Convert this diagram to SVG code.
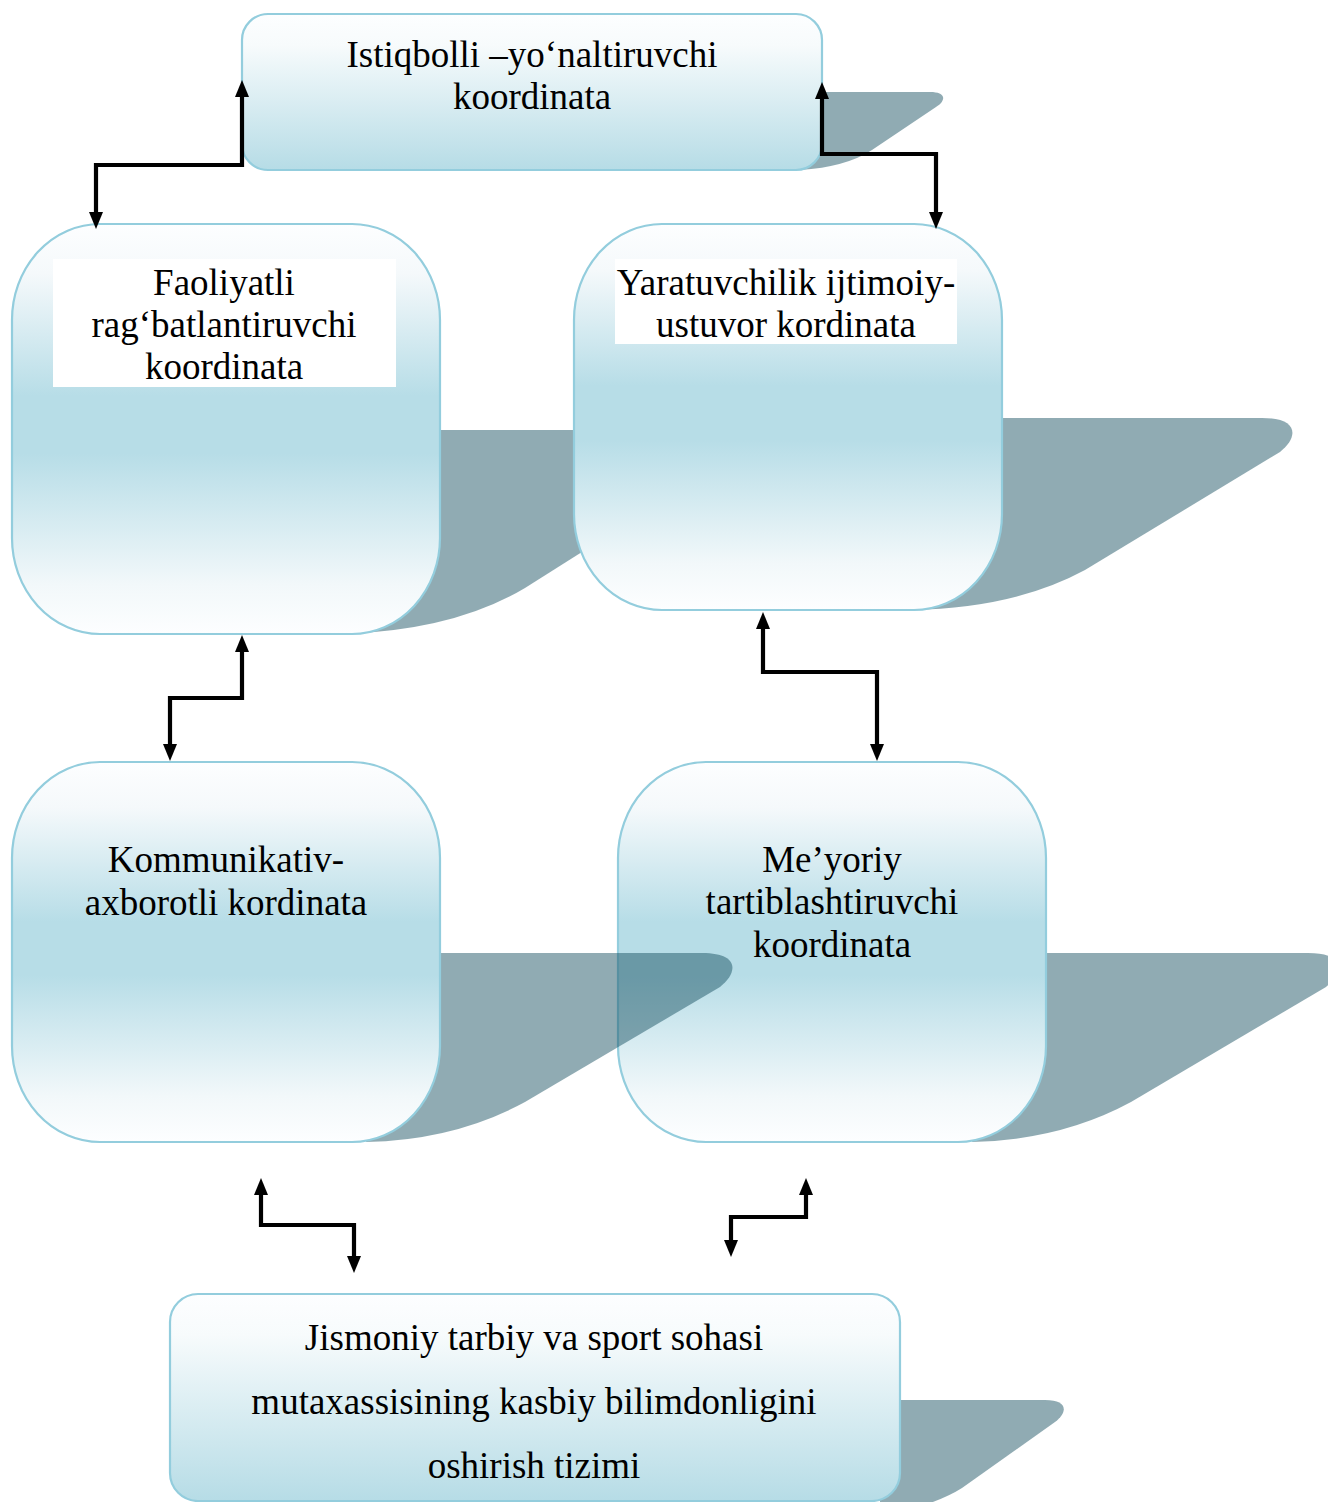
<svg xmlns="http://www.w3.org/2000/svg" width="1328" height="1502" viewBox="0 0 1328 1502">
<defs>
<linearGradient id="gWide" x1="0" y1="0" x2="0" y2="1">
<stop offset="0" stop-color="#fdfeff"/>
<stop offset="0.2" stop-color="#f7fbfc"/>
<stop offset="1" stop-color="#b6dce6"/>
</linearGradient>
<linearGradient id="gTall" x1="0" y1="0" x2="0" y2="1">
<stop offset="0" stop-color="#fdfeff"/>
<stop offset="0.12" stop-color="#f5f9fb"/>
<stop offset="0.42" stop-color="#b7dde7"/>
<stop offset="0.56" stop-color="#b7dde7"/>
<stop offset="0.88" stop-color="#f2f8fa"/>
<stop offset="1" stop-color="#fdfeff"/>
</linearGradient>
<marker id="ah" viewBox="0 0 17 14" refX="0" refY="7" markerWidth="17" markerHeight="14" markerUnits="userSpaceOnUse" orient="auto-start-reverse">
<path d="M0,0 L17,7 L0,14 Z" fill="#000"/>
</marker>
</defs>
<style>
.box{stroke:#93cddd;stroke-width:2.2}
.wide{fill:url(#gWide)}
.tall{fill:url(#gTall)}
.sh{fill:#144d5e;fill-opacity:0.47}
.t{font-family:"Liberation Serif","Times New Roman",serif;font-size:37px;fill:#000;text-anchor:middle}
.conn{fill:none;stroke:#000;stroke-width:4.2;marker-start:url(#ah);marker-end:url(#ah)}
</style>

<g id="node-top">
<path class="sh" d="M800,92 L930,92 C947,92 946,101 936,107 L872,150 Q846,167 800,170 Z"/>
<rect class="box wide" x="242" y="14" width="580" height="156" rx="26" ry="26"/>
<text class="t" x="532" y="67">Istiqbolli –yo‘naltiruvchi</text>
<text class="t" x="532" y="109">koordinata</text>
</g>

<g id="node-faoliyatli">
<path class="sh" d="M420,430 L700,430 C738,430 738,450 718,466 L525,588 Q455,630 345,634 Z"/>
<rect class="box tall" x="12" y="224" width="428" height="410" rx="88" ry="96"/>
<rect x="53" y="259" width="343" height="128" fill="#fff"/>
<text class="t" x="224" y="295">Faoliyatli</text>
<text class="t" x="224" y="337">rag‘batlantiruvchi</text>
<text class="t" x="224" y="379">koordinata</text>
</g>

<g id="node-yaratuvchilik">
<path class="sh" d="M980,418 L1262,418 C1300,418 1298,438 1280,452 L1085,570 Q1015,608 912,610 Z"/>
<rect class="box tall" x="574" y="224" width="428" height="386" rx="88" ry="96"/>
<rect x="615" y="259" width="342" height="85" fill="#fff"/>
<text class="t" x="786" y="295">Yaratuvchilik ijtimoiy-</text>
<text class="t" x="786" y="337">ustuvor kordinata</text>
</g>

<g id="node-meyoriy">
<path class="sh" d="M1026,953 L1308,953 C1346,953 1344,973 1326,987 L1131,1102 Q1061,1140 972,1142 Z"/>
<rect class="box tall" x="618" y="762" width="428" height="380" rx="88" ry="96"/>
<text class="t" x="832" y="872">Me’yoriy</text>
<text class="t" x="832" y="914">tartiblashtiruvchi</text>
<text class="t" x="832" y="957">koordinata</text>
</g>

<g id="node-kommunikativ">
<path class="sh" d="M420,953 L702,953 C740,953 738,973 720,987 L525,1102 Q455,1140 366,1142 Z"/>
<rect class="box tall" x="12" y="762" width="428" height="380" rx="88" ry="96"/>
<text class="t" x="226" y="872">Kommunikativ-</text>
<text class="t" x="226" y="915">axborotli kordinata</text>
</g>

<g id="node-jismoniy">
<path class="sh" d="M880,1400 L1045,1400 C1068,1400 1068,1412 1055,1422 L962,1488 Q940,1502 900,1512 L880,1512 Z"/>
<rect class="box wide" x="170" y="1294" width="730" height="207" rx="28" ry="28"/>
<text class="t" x="534" y="1350">Jismoniy tarbiy va sport sohasi</text>
<text class="t" x="534" y="1414">mutaxassisining kasbiy bilimdonligini</text>
<text class="t" x="534" y="1478">oshirish tizimi</text>
</g>

<g id="connectors">
<path class="conn" d="M96,212 L96,165 L242,165 L242,97"/>
<path class="conn" d="M822,99 L822,154 L936,154 L936,212"/>
<path class="conn" d="M242,652 L242,698 L170,698 L170,744"/>
<path class="conn" d="M763,629 L763,672 L877,672 L877,744"/>
<path class="conn" d="M261,1195 L261,1225 L354,1225 L354,1256"/>
<path class="conn" d="M806,1195 L806,1217 L731,1217 L731,1240"/>
</g>
</svg>
